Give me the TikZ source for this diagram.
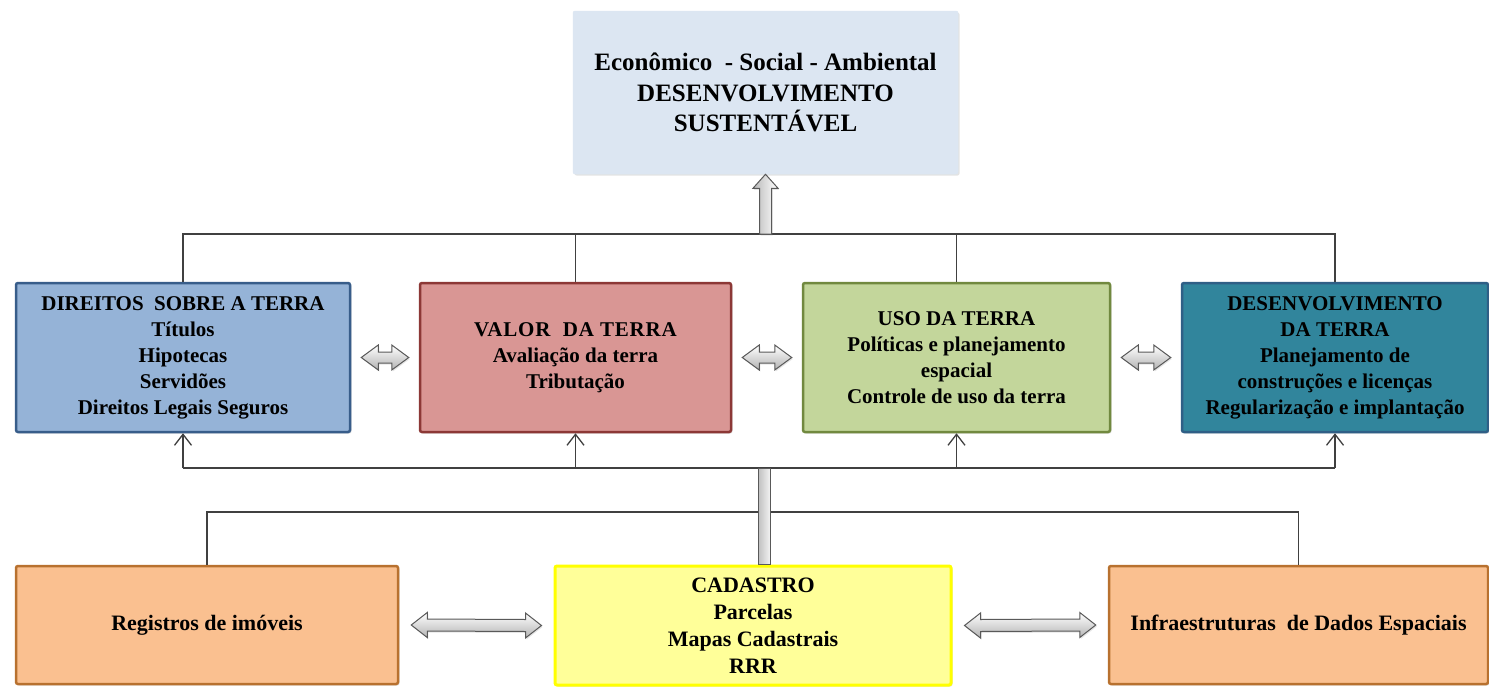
\documentclass[tikz,border=0pt]{standalone}
\usepackage{fontspec}
\setmainfont{Liberation Serif}
\usetikzlibrary{calc,arrows.meta,shadows}
\definecolor{topfill}{HTML}{DCE6F2}
\definecolor{bAfill}{HTML}{95B3D7}\definecolor{bAdraw}{HTML}{385D8A}
\definecolor{bBfill}{HTML}{D99694}\definecolor{bBdraw}{HTML}{8C3836}
\definecolor{bCfill}{HTML}{C3D69B}\definecolor{bCdraw}{HTML}{71893F}
\definecolor{bDfill}{HTML}{31859C}\definecolor{bDdraw}{HTML}{2F5F86}
\definecolor{orfill}{HTML}{FAC090}\definecolor{ordraw}{HTML}{B8712F}
\definecolor{yefill}{HTML}{FFFF99}\definecolor{yedraw}{HTML}{FFFF00}
\definecolor{linecol}{HTML}{404040}
\tikzset{
  box/.style={rectangle, rounded corners=2pt, line width=2.5pt, align=center,
     inner sep=2pt, text=black,
     drop shadow={opacity=0.22, shadow xshift=1.5pt, shadow yshift=-1.5pt}},
  midtext/.style={font=\bfseries\fontsize{21}{26}\selectfont},
  bottext/.style={font=\bfseries\fontsize{22}{27}\selectfont},
  conn/.style={draw=linecol, line width=1.3pt},
  upconn/.style={conn, -{Straight Barb[length=11pt,width=17pt,line width=1.3pt]}},
  blockarrow/.style={draw=black!65, line width=1pt, top color=white, bottom color=gray!60,
     drop shadow={opacity=0.2, shadow xshift=1pt, shadow yshift=-1.5pt}},
  uparrowstyle/.style={draw=black!65, line width=1pt, left color=gray!55, right color=white,
     drop shadow={opacity=0.2, shadow xshift=1pt, shadow yshift=-1.5pt}},
  barstyle/.style={draw=black!65, line width=1pt, left color=gray!50, right color=gray!10},
}
% #1 start, #2 end, #3 half shaft, #4 half head, #5 head length
\newcommand\mydblarrow[5]{%
  \path[blockarrow] let \p1=(#1), \p2=(#2) in
    (\x1,\y1) -- (\x1+#5,\y1+#4) -- (\x1+#5,\y1+#3) -- (\x2-#5,\y2+#3) -- (\x2-#5,\y2+#4)
    -- (\x2,\y2) -- (\x2-#5,\y2-#4) -- (\x2-#5,\y2-#3) -- (\x1+#5,\y1-#3) -- (\x1+#5,\y1-#4) -- cycle;}
\begin{document}
\begin{tikzpicture}[x=1pt,y=-1pt]
\useasboundingbox[fill=white] (0,0) rectangle (1489,688);

% top box
\node[box, fill=topfill, draw=topfill, line width=0.5pt, minimum width=385, minimum height=163,
      font=\bfseries\fontsize{25}{30.5}\selectfont] (top) at (765.5,92.5)
  {Econômico~ - Social - Ambiental\\DESENVOLVIMENTO\\SUSTENTÁVEL};

% middle boxes
\node[box, midtext, fill=bAfill, draw=bAdraw, minimum width=334, minimum height=149] (b1) at (183,357.5)
  {DIREITOS~ SOBRE A TERRA\\Títulos\\Hipotecas\\Servidões\\Direitos Legais Seguros};
\node[box, midtext, fill=bBfill, draw=bBdraw, minimum width=311, minimum height=149] (b2) at (575.5,357.5)
  {\addfontfeatures{LetterSpace=4}VALOR~ DA TERRA\\Avaliação da terra\\Tributação};
\node[box, midtext, fill=bCfill, draw=bCdraw, minimum width=307, minimum height=149] (b3) at (956.5,357.5)
  {USO DA TERRA\\Políticas e planejamento\\espacial\\Controle de uso da terra};
\node[box, midtext, fill=bDfill, draw=bDdraw, minimum width=306, minimum height=149] (b4) at (1335,357.5)
  {DESENVOLVIMENTO\\DA TERRA\\Planejamento de\\construções e licenças\\Regularização e implantação};

% bottom boxes
\node[box, bottext, fill=orfill, draw=ordraw, minimum width=382, minimum height=118] (reg) at (207,625)
  {Registros de imóveis};
\node[box, bottext, fill=yefill, draw=yedraw, line width=3pt, minimum width=396, minimum height=119] (cad) at (753,625.5)
  {CADASTRO\\Parcelas\\Mapas Cadastrais\\RRR};
\node[box, bottext, fill=orfill, draw=ordraw, minimum width=379, minimum height=118] (inf) at (1298.5,625)
  {Infraestruturas~ de Dados Espaciais};

% buses
\coordinate (busA) at (765.5,234);
\coordinate (busB) at (765.5,468);
\coordinate (busC) at (765.5,512);
\coordinate (bar) at (764,468);

\draw[conn] (b1.north) -- (b1.north |- busA) -- (b4.north |- busA) -- (b4.north);
\draw[conn] (b2.north) -- (b2.north |- busA);
\draw[conn] (b3.north) -- (b3.north |- busA);

\draw[conn] (b1.south |- busB) -- (b4.south |- busB);
\draw[upconn] (b1.south |- busB) -- (b1.south);
\draw[upconn] (b2.south |- busB) -- (b2.south);
\draw[upconn] (b3.south |- busB) -- (b3.south);
\draw[upconn] (b4.south |- busB) -- (b4.south);

\draw[conn] (reg.north) -- (reg.north |- busC) -- (inf.north |- busC) -- (inf.north);

% vertical bar from cadastro
\path[barstyle] ($(bar)+(-6,0)$) rectangle ($(cad.north -| bar)+(6,0)$);

% upward block arrow to top box
\path[uparrowstyle] let \p1=(top.south |- busA), \p2=(top.south) in
  (\x1-6pt,\y1) -- (\x1-6pt,\y2-14pt) -- (\x1-12.5pt,\y2-14pt) -- (\x2,\y2)
  -- (\x1+12.5pt,\y2-14pt) -- (\x1+6pt,\y2-14pt) -- (\x1+6pt,\y1) -- cycle;

% double block arrows
\mydblarrow{$(b1.east)+(10,0)$}{$(b2.west)+(-10,0)$}{5.5pt}{12.5pt}{17pt}
\mydblarrow{$(b2.east)+(10,0)$}{$(b3.west)+(-10,0)$}{5.5pt}{12.5pt}{17pt}
\mydblarrow{$(b3.east)+(10,0)$}{$(b4.west)+(-10,0)$}{5.5pt}{12.5pt}{17pt}
\mydblarrow{$(reg.east)+(12,0)$}{$(cad.west)+(-12,0)$}{6pt}{12.5pt}{16pt}
\mydblarrow{$(cad.east)+(12,0)$}{$(inf.west)+(-12,0)$}{6pt}{12.5pt}{16pt}
\end{tikzpicture}
\end{document}
